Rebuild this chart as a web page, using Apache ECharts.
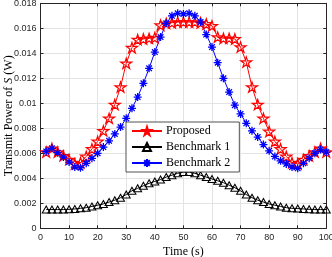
<!DOCTYPE html>
<html><head><meta charset="utf-8">
<script src="https://cdn.jsdelivr.net/npm/echarts@6/dist/echarts.min.js"></script>
<style>html,body{margin:0;padding:0;background:#fff}#c{width:332px;height:257px}</style>
</head><body><div id="c"></div>
<script>
const time = [2,4,6,8,10,12,14,16,18,20,22,24,26,28,30,32,34,36,38,40,42,44,46,48,50,52,54,56,58,60,62,64,66,68,70,72,74,76,78,80,82,84,86,88,90,92,94,96,98,100];
const proposed = [0.0061,0.0064,0.0061,0.0058,0.0055,0.00515,0.00525,0.00575,0.00635,0.00695,0.0078,0.0088,0.0099,0.0113,0.0132,0.01445,0.0151,0.01515,0.0152,0.01525,0.01625,0.0164,0.01645,0.0165,0.0165,0.0165,0.0165,0.01645,0.01635,0.0162,0.0153,0.0152,0.0152,0.01515,0.0145,0.0133,0.0113,0.0099,0.0088,0.00775,0.00695,0.00635,0.00575,0.00525,0.00515,0.0055,0.0058,0.0061,0.0064,0.0061];
const bench1 = [0.0015,0.0015,0.0015,0.0015,0.00152,0.00155,0.0016,0.00165,0.00175,0.00185,0.00195,0.0021,0.00225,0.00245,0.0027,0.003,0.0032,0.0034,0.0036,0.00375,0.0039,0.0041,0.00425,0.0044,0.0045,0.0045,0.0044,0.00425,0.0041,0.00395,0.0038,0.00365,0.00345,0.00325,0.003,0.0027,0.00245,0.00225,0.0021,0.00195,0.00185,0.00175,0.00165,0.0016,0.00158,0.00155,0.00152,0.0015,0.0015,0.0015];
const bench2 = [0.00615,0.0064,0.00605,0.0057,0.0053,0.0049,0.00485,0.0052,0.0056,0.006,0.0065,0.007,0.00755,0.0081,0.0088,0.0096,0.0105,0.0116,0.0128,0.0141,0.0153,0.0164,0.017,0.0172,0.01715,0.0172,0.017,0.0165,0.0155,0.0145,0.01325,0.012,0.0109,0.00985,0.00915,0.0084,0.0078,0.0073,0.0067,0.0062,0.00575,0.0054,0.00515,0.0049,0.0048,0.0052,0.0056,0.006,0.0063,0.0061];
const seriesNames = ['Proposed','Benchmark 1','Benchmark 2'];
const xTicks = ['0','10','20','30','40','50','60','70','80','90','100'];
const yTicks = ['0','0.002','0.004','0.006','0.008','0.01','0.012','0.014','0.016','0.018'];

const STAR = 'path://M0,-1L0.2245,-0.309L0.951,-0.309L0.363,0.118L0.588,0.809L0,0.382L-0.588,0.809L-0.363,0.118L-0.951,-0.309L-0.2245,-0.309Z';
const AST = 'path://M0,-1L0,1M-1,0L1,0M-0.7,-0.7L0.7,0.7M-0.7,0.7L0.7,-0.7';
const pairs = a => time.map((t,i)=>[t,a[i]]);
const axCol = '#262626';
const tickFont = {fontFamily:'Liberation Sans, Arial, sans-serif', fontSize:9, color:axCol};
const serif = 'Liberation Serif, Times New Roman, serif';

const chart = echarts.init(document.getElementById('c'), null, {renderer:'canvas'});
const baseX = {type:'value', min:0, max:100, interval:10};
const baseY = {type:'value', min:0, max:0.018, interval:0.002};
chart.setOption({
  animation:false,
  grid:{left:40.5, right:5.7, top:3.3, bottom:28.7, containLabel:false, outerBoundsMode:'none'},
  xAxis:[
    Object.assign({}, baseX, {position:'bottom',
      axisLine:{show:true, onZero:false, lineStyle:{color:axCol, width:1}},
      axisTick:{show:true, inside:true, length:3, lineStyle:{color:axCol}},
      axisLabel:{show:true, margin:5, formatter:(v)=>xTicks[Math.round(v/10)], ...tickFont},
      splitLine:{show:true, lineStyle:{color:'#e3e3e3', width:1}},
      name:'Time (s)', nameLocation:'middle', nameGap:18, nameMoveOverlap:false,
      nameTextStyle:{fontFamily:serif, fontSize:12, color:'#000'}}),
    Object.assign({}, baseX, {position:'top',
      axisLine:{show:true, onZero:false, lineStyle:{color:axCol, width:1}},
      axisTick:{show:true, inside:true, length:3, lineStyle:{color:axCol}},
      axisLabel:{show:false}, splitLine:{show:false}})
  ],
  yAxis:[
    Object.assign({}, baseY, {position:'left',
      axisLine:{show:true, onZero:false, lineStyle:{color:axCol, width:1}},
      axisTick:{show:true, inside:true, length:3, lineStyle:{color:axCol}},
      axisLabel:{show:true, margin:4, formatter:(v)=>yTicks[Math.round(v/0.002)], ...tickFont},
      splitLine:{show:true, lineStyle:{color:'#e3e3e3', width:1}},
      name:'Transmit Power of {i|S} (W)', nameLocation:'middle', nameGap:26, nameMoveOverlap:false,
      nameTextStyle:{fontFamily:serif, fontSize:12, color:'#000',
        rich:{i:{fontFamily:serif, fontStyle:'italic', fontSize:12, color:'#000'}}}}),
    Object.assign({}, baseY, {position:'right',
      axisLine:{show:true, onZero:false, lineStyle:{color:axCol, width:1}},
      axisTick:{show:true, inside:true, length:3, lineStyle:{color:axCol}},
      axisLabel:{show:false}, splitLine:{show:false}})
  ],
  legend:{
    show:true, orient:'vertical', left:126, top:122,
    backgroundColor:'#fff', borderColor:axCol, borderWidth:0.8,
    padding:[3,9,3,5], itemWidth:30, itemHeight:10, itemGap:4,
    textStyle:{fontFamily:serif, fontSize:12, color:'#000', padding:[0,0,0,-1]},
    data:seriesNames
  },
  series:[
    {name:seriesNames[0], type:'line', data:pairs(proposed), symbol:STAR, symbolSize:11, symbolKeepAspect:true,
     lineStyle:{color:'#ff0000', width:1}, itemStyle:{color:'rgba(255,255,255,0)', borderColor:'#ff0000', borderWidth:1.2}},
    {name:seriesNames[1], type:'line', data:pairs(bench1), symbol:'triangle', symbolSize:[8,7],
     lineStyle:{color:'#000', width:1}, itemStyle:{color:'rgba(255,255,255,0)', borderColor:'#000', borderWidth:1}},
    {name:seriesNames[2], type:'line', data:pairs(bench2), symbol:AST, symbolSize:8,
     lineStyle:{color:'#0000ff', width:1}, itemStyle:{color:'rgba(255,255,255,0)', borderColor:'#0000ff', borderWidth:1.3}}
  ]
});
</script></body></html>
